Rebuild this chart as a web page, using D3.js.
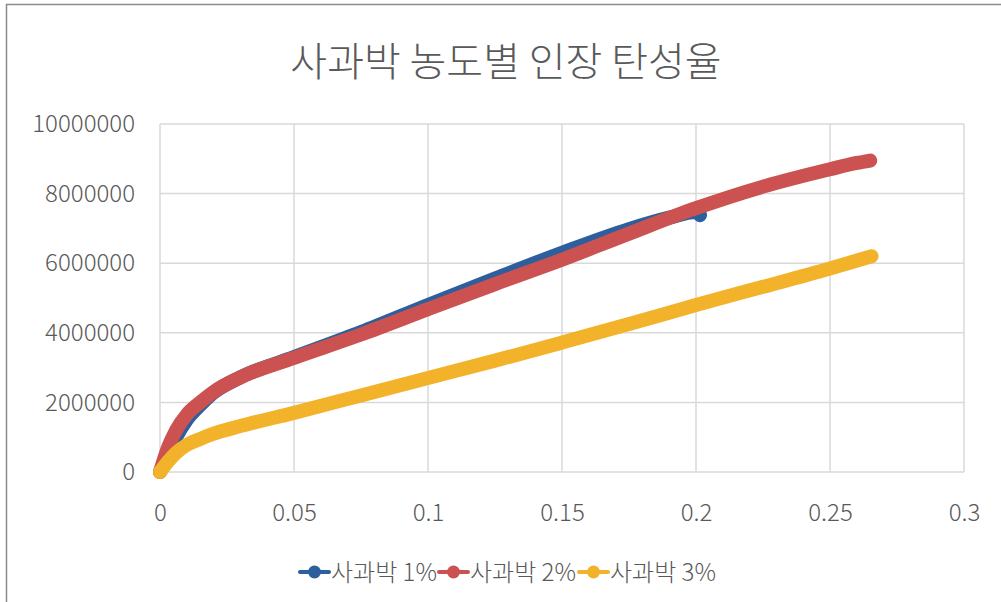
<!DOCTYPE html>
<html>
<head>
<meta charset="utf-8">
<script src="https://cdn.jsdelivr.net/npm/d3@7"></script>
<style>
  html, body { margin: 0; padding: 0; background: #fff; }
  svg { display: block; }
  text { font-family: "Noto Sans CJK KR", "Noto Sans", sans-serif; fill: #595959; }
</style>
</head>
<body>
<svg id="chart" width="1001" height="602"></svg>
<script>
// Tensile stress–strain curves by apple pomace concentration
const seriesNames = ["사과박 1%", "사과박 2%", "사과박 3%"];
const seriesColors = ["#2E5F9D", "#CB5250", "#F2B32B"];

const strain1 = [0, 0.003, 0.006, 0.01, 0.015, 0.02, 0.03, 0.05, 0.075, 0.1, 0.125, 0.15, 0.175, 0.19, 0.2, 0.2015];
const stress1 = [0, 500000, 1000000, 1500000, 1920000, 2280000, 2720000, 3300000, 4020000, 4800000, 5560000, 6300000, 6980000, 7310000, 7470000, 7380000];

const strain2 = [0, 0.003, 0.006, 0.01, 0.015, 0.02, 0.03, 0.05, 0.075, 0.1, 0.125, 0.15, 0.175, 0.2, 0.225, 0.25, 0.26, 0.265];
const stress2 = [0, 700000, 1200000, 1650000, 2000000, 2300000, 2720000, 3280000, 3950000, 4680000, 5400000, 6100000, 6850000, 7580000, 8200000, 8700000, 8880000, 8950000];

const strain3 = [0, 0.003, 0.006, 0.01, 0.015, 0.02, 0.03, 0.05, 0.075, 0.1, 0.125, 0.15, 0.175, 0.2, 0.225, 0.25, 0.2655];
const stress3 = [0, 300000, 550000, 780000, 950000, 1100000, 1320000, 1700000, 2200000, 2700000, 3200000, 3720000, 4250000, 4800000, 5320000, 5850000, 6200000];

const xTicks = [0, 0.05, 0.1, 0.15, 0.2, 0.25, 0.3];
const yTicks = [0, 2000000, 4000000, 6000000, 8000000, 10000000];

const strains = [strain1, strain2, strain3];
const stresses = [stress1, stress2, stress3];

const svg = d3.select("#chart");

// chart frame
svg.append("rect")
  .attr("x", 6.5).attr("y", 4.5)
  .attr("width", 1010).attr("height", 620)
  .attr("fill", "none").attr("stroke", "#8C8C8C").attr("stroke-width", 1.5);

const plot = { left: 160, right: 964, top: 124, bottom: 472 };
const x = d3.scaleLinear().domain([0, 0.3]).range([plot.left, plot.right]);
const y = d3.scaleLinear().domain([0, 10000000]).range([plot.bottom, plot.top]);

// title
svg.append("text")
  .attr("x", 506).attr("y", 76)
  .attr("text-anchor", "middle")
  .style("font-size", "40px")
  .style("font-weight", 300)
  .text("사과박 농도별 인장 탄성율");

// gridlines
const grid = svg.append("g");
grid.selectAll("line.h").data(yTicks).join("line")
  .attr("x1", plot.left).attr("x2", plot.right)
  .attr("y1", d => y(d)).attr("y2", d => y(d))
  .attr("stroke", "#D9D9D9").attr("stroke-width", 1.5);
grid.selectAll("line.v").data(xTicks).join("line")
  .attr("y1", plot.top).attr("y2", plot.bottom)
  .attr("x1", d => x(d)).attr("x2", d => x(d))
  .attr("stroke", "#D9D9D9").attr("stroke-width", 1.5);

const labelStyle = g => g.selectAll("text")
  .style("font-size", "24px").style("font-weight", 300)
  .attr("fill", "#595959").style("font-family", "'Noto Sans CJK KR', sans-serif");

// axes (labels only)
const yAxis = d3.axisLeft(y).tickValues(yTicks).tickFormat(d3.format("d")).tickSize(0).tickPadding(25);
svg.append("g").attr("transform", `translate(${plot.left},0)`).call(yAxis)
  .call(g => g.select(".domain").remove())
  .call(labelStyle);

const xAxis = d3.axisBottom(x).tickValues(xTicks).tickFormat(d => String(d)).tickSize(0).tickPadding(32);
svg.append("g").attr("transform", `translate(0,${plot.bottom})`).call(xAxis)
  .call(g => g.select(".domain").remove())
  .call(labelStyle);

// curves
const line = d3.line().x(d => x(d[0])).y(d => y(d[1])).curve(d3.curveMonotoneX);
strains.forEach((s, i) => {
  const pts = s.map((v, j) => [v, stresses[i][j]]);
  svg.append("path")
    .datum(pts)
    .attr("d", line)
    .attr("fill", "none")
    .attr("stroke", seriesColors[i])
    .attr("stroke-width", 14)
    .attr("stroke-linecap", "round")
    .attr("stroke-linejoin", "round");
});

// legend
const legendX = [299, 438, 578];
const legend = svg.append("g");
seriesNames.forEach((name, i) => {
  const g = legend.append("g").attr("transform", `translate(${legendX[i]},572)`);
  g.append("line").attr("x1", 1).attr("x2", 30).attr("y1", 0).attr("y2", 0)
    .attr("stroke", seriesColors[i]).attr("stroke-width", 4).attr("stroke-linecap", "round");
  g.append("circle").attr("cx", 15.5).attr("cy", 0).attr("r", 6.5).attr("fill", seriesColors[i]);
  g.append("text").attr("x", 32).attr("y", 8.5)
    .style("font-size", "24px").style("font-weight", 300)
    .text(name);
});
</script>
</body>
</html>
